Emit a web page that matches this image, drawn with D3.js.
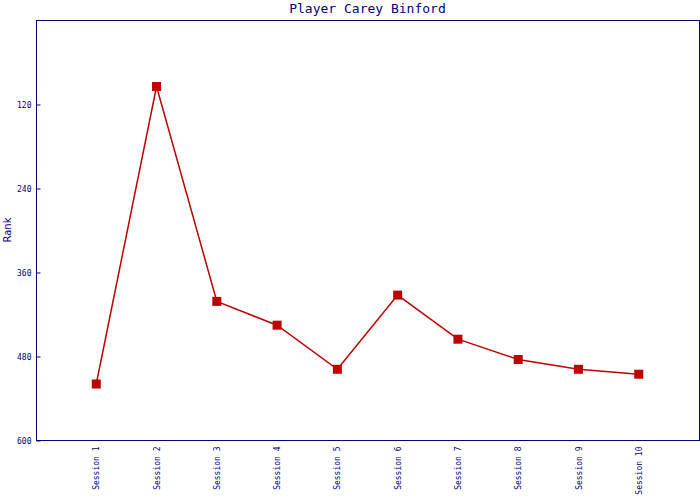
<!DOCTYPE html>
<html><head><meta charset="utf-8">
<script src="https://cdn.jsdelivr.net/npm/d3@7"></script>
<style>body{margin:0;background:#fff}</style>
</head><body>
<svg id="c" width="700" height="500"></svg>
<script>
const categories = ["Session 1","Session 2","Session 3","Session 4","Session 5","Session 6","Session 7","Session 8","Session 9","Session 10"];
const ranks = [520, 95, 402, 436, 499, 393, 456, 485, 499, 506];
const yTicks = [120, 240, 360, 480, 600];
const title = "Player Carey Binford";
const yLabel = "Rank";

const svg = d3.select("#c");
const m = {l:36, t:20, r:699, b:440};
const navy = "#000080", red = "#c00000";
const x = d3.scalePoint().domain(categories).range([m.l, m.r]).padding(1);
const y = d3.scaleLinear().domain([0, 600]).range([m.t, m.b]);

svg.append("rect").attr("x", m.l+0.5).attr("y", m.t+0.5).attr("width", m.r-m.l).attr("height", m.b-m.t)
  .attr("fill","none").attr("stroke", navy).attr("stroke-width",1);

const ya = svg.append("g").attr("transform", `translate(${m.l+0.5},0.5)`)
  .call(d3.axisLeft(y).tickValues(yTicks).tickSize(-4).tickPadding(5));
ya.select(".domain").remove();
ya.selectAll("line").attr("stroke", navy);
ya.selectAll("text").attr("fill", navy).style("font-family","DejaVu Sans Mono").style("font-size","8px");

const xa = svg.append("g").attr("transform", `translate(0,${m.b+0.5})`)
  .call(d3.axisBottom(x).tickSize(0).tickPadding(0));
xa.select(".domain").remove();
xa.selectAll("text").attr("fill", navy).style("font-family","DejaVu Sans Mono").style("font-size","8px")
  .attr("text-anchor","end").attr("transform","rotate(-90)").attr("x",-6).attr("y",0).attr("dy","0.32em").attr("dx",0);

svg.append("path").datum(ranks)
  .attr("fill","none").attr("stroke", red).attr("stroke-width",1.5)
  .attr("d", d3.line().x((d,i)=>x(categories[i])).y(d=>y(d)));

svg.selectAll("rect.pt").data(ranks).join("rect").attr("class","pt")
  .attr("x",(d,i)=>x(categories[i])-4.5).attr("y",d=>y(d)-4.5).attr("width",9).attr("height",9).attr("fill", red);

svg.append("text").attr("x",(m.l+m.r)/2).attr("y",13).attr("text-anchor","middle")
  .attr("fill",navy).style("font-family","DejaVu Sans Mono").style("font-size","13px").text(title);

svg.append("text").attr("transform",`translate(11,${(m.t+m.b)/2}) rotate(-90)`).attr("text-anchor","middle")
  .attr("fill",navy).style("font-family","DejaVu Sans").style("font-size","10px").text(yLabel);
</script>
</body></html>
